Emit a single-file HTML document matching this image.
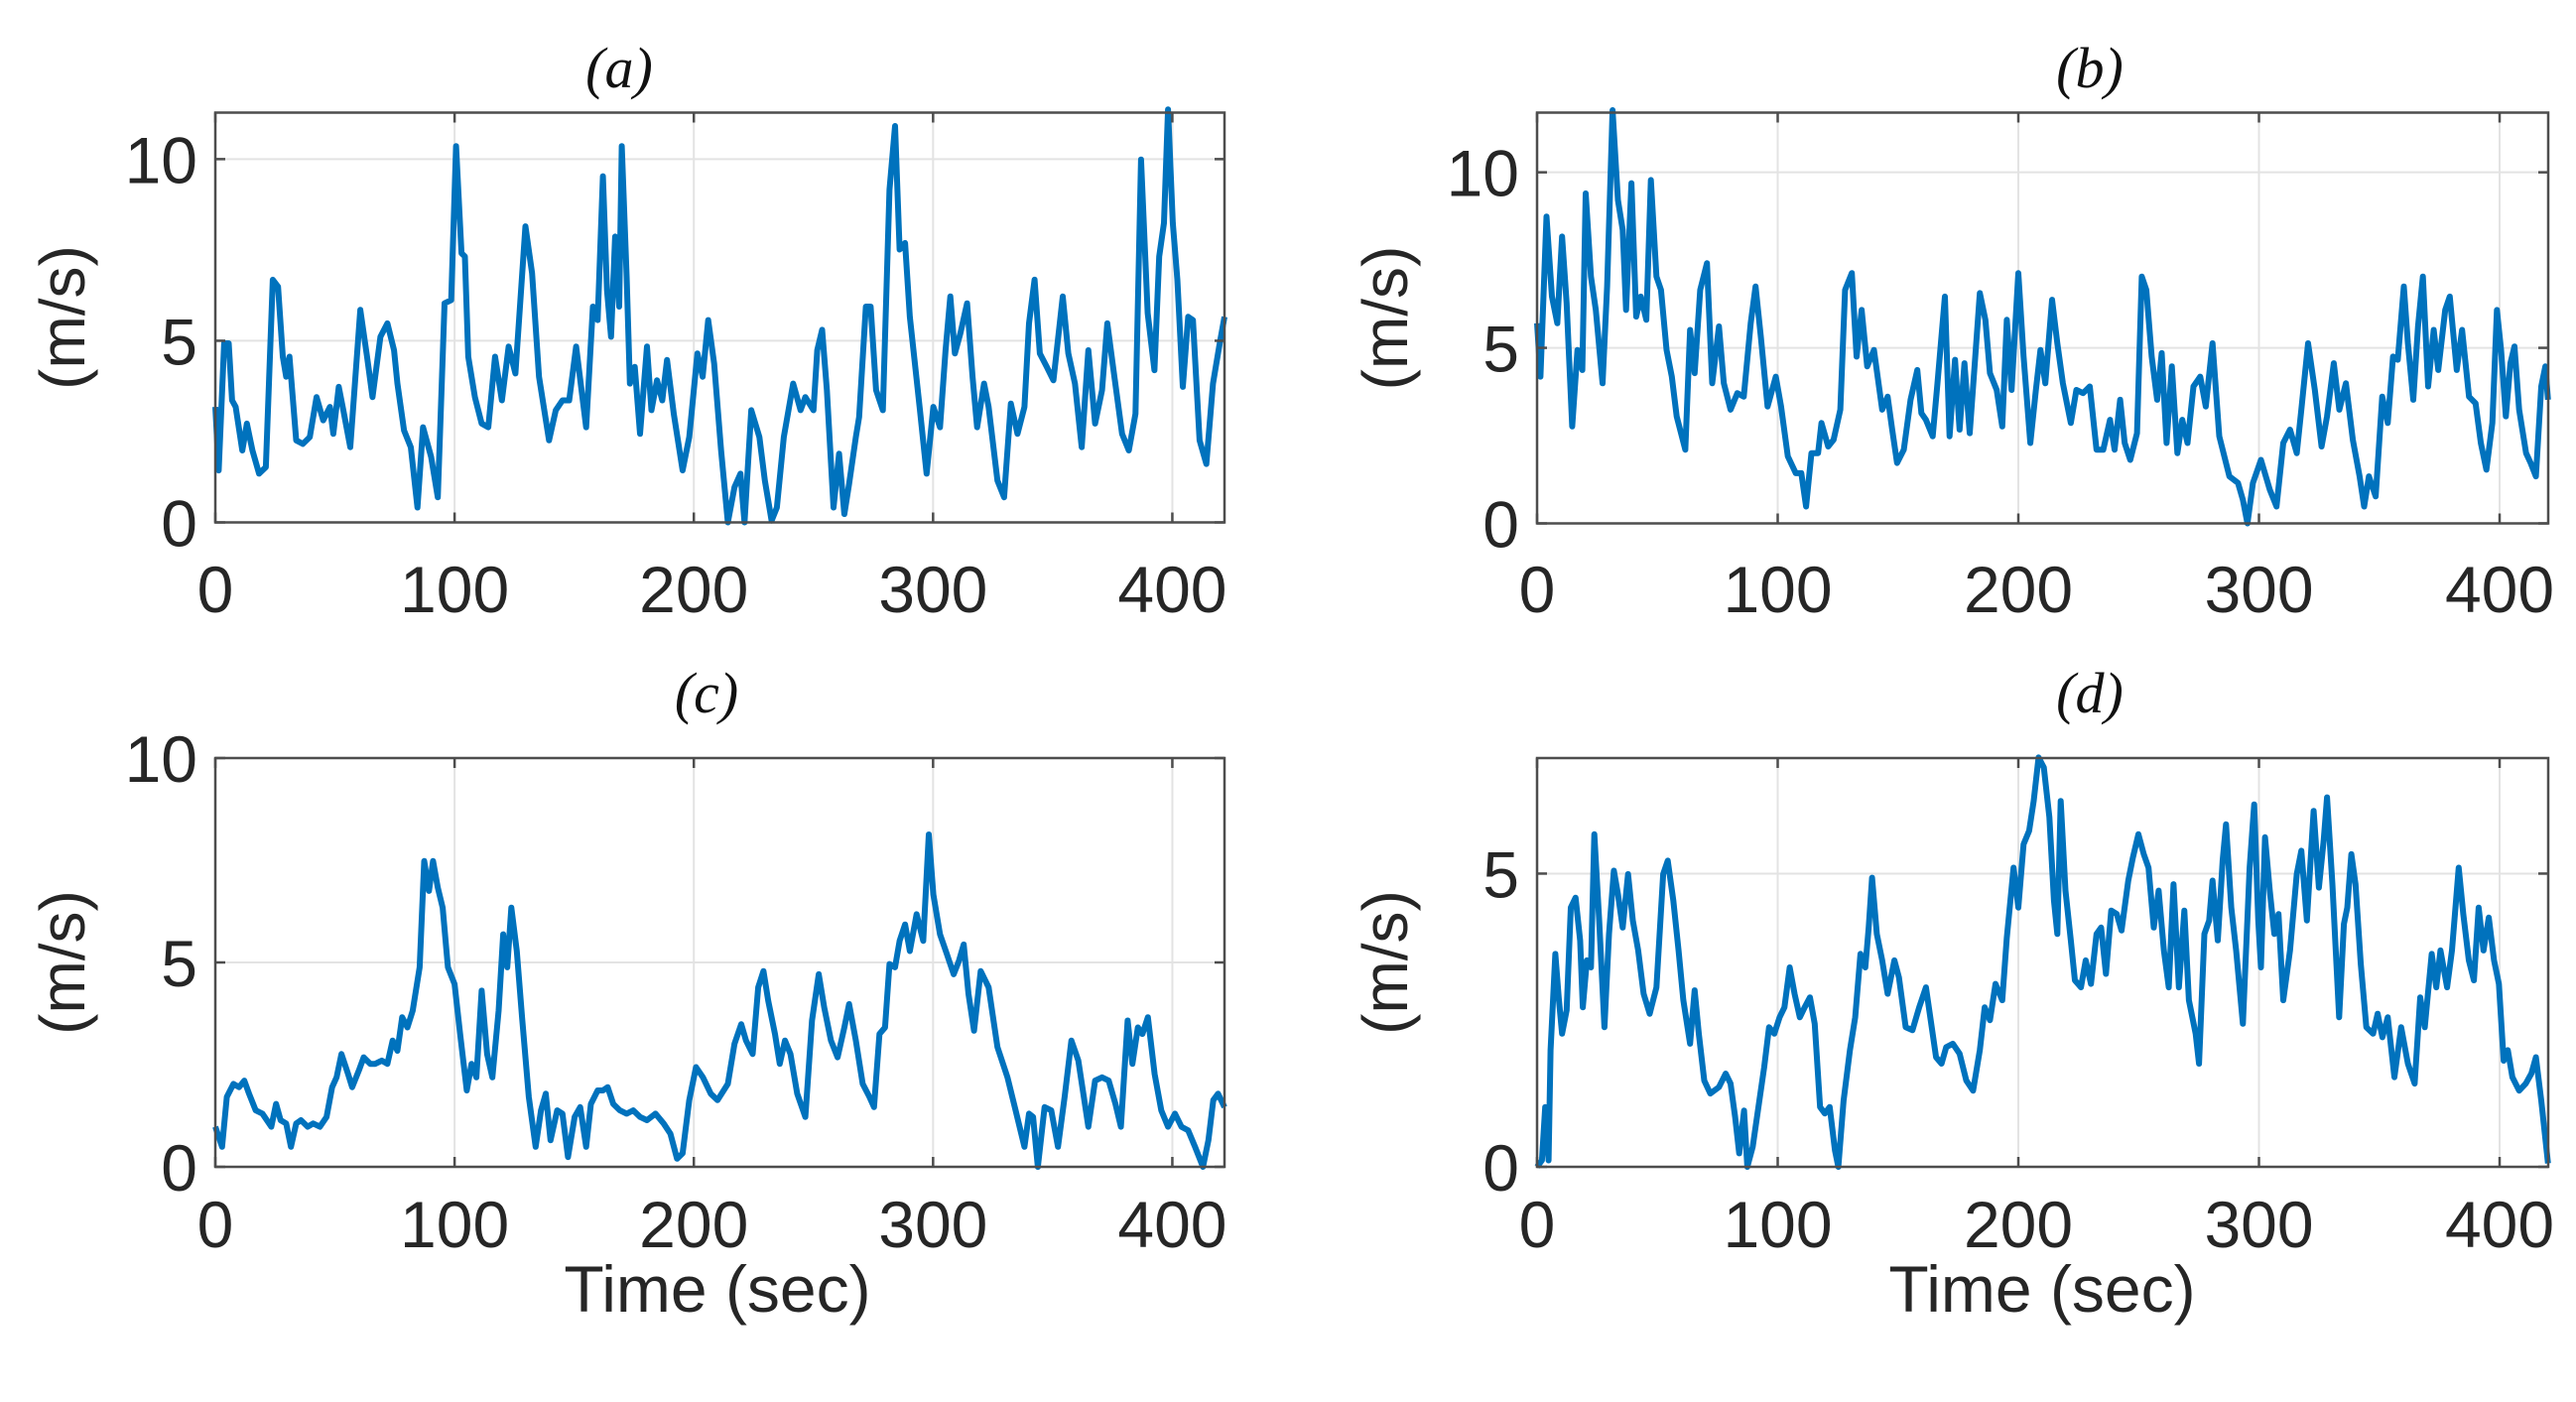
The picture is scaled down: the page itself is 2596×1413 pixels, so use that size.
<!DOCTYPE html>
<html><head><meta charset="utf-8"><style>
html,body{margin:0;padding:0;background:#fff;overflow:hidden;}
svg{display:block;}
text{font-family:"Liberation Sans",Arial,sans-serif;fill:#262626;}
.ttl{font-family:"Liberation Serif",serif;font-style:italic;font-size:58px;fill:#111;}
</style></head><body>
<svg id="fig" width="2596" height="1413" viewBox="0 0 2596 1413"></svg>
<script>
const timeA=[0,1.4,3.7,5.6,7.0,8.5,11.3,13.2,15.5,18.3,21.1,24.0,26.2,28.2,29.6,31.0,33.8,36.6,39.5,42.3,45.1,47.9,49.3,51.6,53.5,56.4,60.6,63.4,65.7,69.0,71.9,74.7,76.1,78.9,81.7,84.5,86.8,90.2,93.0,95.8,98.6,100.6,102.9,104.3,105.7,108.5,111.3,114.1,116.9,119.8,122.6,125.4,129.6,132.4,135.3,139.5,142.3,145.1,147.9,150.8,155.0,157.8,159.8,162.0,163.7,165.4,167.1,168.8,169.9,171.9,173.3,175.3,177.5,180.4,182.3,184.6,186.8,188.8,191.6,195.3,198.1,201.5,203.7,206.0,208.5,211.4,214.2,217.0,219.5,221.2,224.0,227.4,229.7,232.5,234.7,237.6,241.5,244.6,246.6,250.0,251.6,253.6,255.6,258.4,260.7,262.9,264.9,267.7,269.1,271.9,273.9,276.2,279.0,281.8,284.1,286.0,288.3,290.3,294.5,297.3,300.1,302.9,305.2,307.2,309.1,311.4,314.2,316.5,318.4,321.3,323.2,326.9,329.7,332.5,335.3,338.2,340.1,342.4,344.6,347.5,350.3,354.2,356.5,359.3,362.1,364.9,367.7,370.6,372.8,375.6,379.0,381.8,384.6,386.9,389.7,392.5,394.5,396.5,398.2,400.2,402.1,404.4,406.6,408.6,411.4,414.2,417.0,419.8,421.8];
const speedA=[3.18,1.43,4.93,4.93,3.36,3.18,1.98,2.72,1.98,1.34,1.52,6.68,6.49,4.56,4.01,4.56,2.26,2.16,2.35,3.45,2.81,3.18,2.44,3.73,3.09,2.07,5.85,4.56,3.45,5.11,5.48,4.74,3.82,2.53,2.07,0.41,2.62,1.80,0.69,6.03,6.12,10.36,7.41,7.32,4.56,3.45,2.72,2.62,4.56,3.36,4.84,4.10,8.15,6.86,4.01,2.26,3.09,3.36,3.36,4.84,2.62,5.94,5.57,9.53,6.40,5.11,7.87,5.94,10.36,6.77,3.82,4.28,2.44,4.84,3.09,3.91,3.36,4.47,2.99,1.43,2.35,4.65,4.01,5.57,4.37,1.98,0,0.97,1.34,0,3.09,2.35,1.15,0.05,0.41,2.35,3.82,3.09,3.45,3.09,4.74,5.30,3.64,0.41,1.89,0.23,1.06,2.35,2.90,5.94,5.94,3.64,3.09,9.16,10.91,7.51,7.69,5.66,3.09,1.34,3.18,2.62,4.74,6.22,4.65,5.20,6.03,4.01,2.62,3.82,3.18,1.15,0.69,3.27,2.44,3.18,5.48,6.68,4.65,4.28,3.91,6.22,4.65,3.82,2.07,4.74,2.72,3.64,5.48,4.10,2.44,1.98,2.99,9.99,5.76,4.19,7.32,8.24,11.37,8.24,6.68,3.73,5.66,5.57,2.26,1.61,3.82,4.93,5.66];
const timeB=[0,1.4,3.9,6.2,8.4,10.4,12.3,14.6,16.8,18.8,20.2,22.4,24.4,27.2,29.1,31.4,33.6,35.6,37.0,39.2,41.2,43.1,45.4,47.3,49.6,51.5,53.8,56.0,58.0,61.6,63.6,65.5,67.8,70.6,72.8,75.6,77.6,80.4,83.2,85.9,88.8,90.8,93.0,95.8,99.2,101.4,104.2,107.5,109.8,111.8,114.0,116.8,118.2,121.0,123.2,126.0,128.0,130.8,132.8,134.9,137.2,140.0,143.4,145.7,147.6,149.6,152.4,155.2,158.0,159.7,161.6,164.4,166.4,169.5,171.4,173.7,175.6,177.6,179.8,182.1,184.0,186.3,188.2,191.0,193.3,195.2,197.2,200.0,202.2,205.0,207.3,209.2,211.2,214.0,216.2,218.5,221.8,224.1,226.9,229.7,232.5,235.3,238.1,240.0,242.3,244.2,246.5,249.3,251.3,253.2,255.4,257.7,259.6,261.6,263.8,266.1,268.1,270.3,272.8,275.6,277.9,280.7,283.5,287.7,291.3,293.3,295.2,297.5,300.8,304.5,307.3,310.1,312.9,315.7,317.6,320.4,323.2,326.0,328.3,331.1,333.4,336.1,339.0,341.8,343.7,345.7,348.5,351.2,353.5,355.7,357.7,360.2,361.9,364.1,366.1,368.1,370.3,372.6,374.5,377.4,379.3,382.2,384.4,387.3,390.0,392.2,394.5,397.0,398.9,400.6,402.6,404.5,406.2,408.1,411.0,412.9,415.1,417.3,419.0,420.1];
const speedB=[5.70,4.18,8.74,6.46,5.70,8.17,6.27,2.76,4.94,4.37,9.40,7.03,6.08,3.99,6.75,11.77,9.21,8.36,6.08,9.69,5.89,6.46,5.80,9.78,7.03,6.65,4.94,4.18,3.05,2.10,5.51,4.28,6.65,7.41,3.99,5.61,3.99,3.24,3.71,3.61,5.70,6.75,5.32,3.33,4.18,3.33,1.91,1.43,1.43,0.48,2.00,2.00,2.86,2.19,2.38,3.24,6.65,7.13,4.75,6.08,4.47,4.94,3.24,3.61,2.67,1.72,2.10,3.52,4.37,3.14,2.95,2.48,3.99,6.46,2.48,4.66,2.67,4.56,2.57,4.75,6.56,5.80,4.28,3.80,2.76,5.80,3.80,7.13,4.75,2.29,3.80,4.94,3.99,6.37,5.13,3.99,2.86,3.80,3.71,3.90,2.10,2.10,2.95,2.10,3.52,2.29,1.81,2.57,7.03,6.65,4.75,3.52,4.85,2.29,4.47,2.00,2.95,2.29,3.90,4.18,3.33,5.13,2.48,1.34,1.15,0.67,0,1.15,1.81,0.96,0.48,2.29,2.67,2.00,3.24,5.13,3.80,2.19,3.05,4.56,3.24,3.99,2.38,1.34,0.48,1.34,0.77,3.61,2.86,4.75,4.66,6.75,5.13,3.52,5.61,7.03,3.90,5.51,4.37,6.08,6.46,4.37,5.51,3.61,3.42,2.29,1.53,2.86,6.08,4.94,3.05,4.56,5.04,3.24,2.00,1.72,1.34,3.90,4.47,3.52];
const timeC=[0,2.8,4.8,7.6,9.9,12.1,14.1,16.9,19.7,23.4,25.4,27.3,29.6,31.6,33.8,35.8,38.6,40.9,43.7,46.5,48.8,50.7,52.7,55.5,57.2,60.0,62.0,64.8,66.8,69.6,71.9,74.1,76.1,78.1,80.3,82.5,85.4,87.3,89.3,91.0,93.0,95.0,97.2,100.0,102.3,105.1,107.1,109.1,111.3,113.6,115.8,118.4,120.3,122.0,123.7,126.0,128.2,131.0,133.9,136.1,138.1,140.1,142.9,145.1,147.4,150.2,152.5,155.0,157.0,159.8,162.0,164.0,166.3,169.1,171.9,174.7,177.5,180.4,184.0,187.4,190.2,193.0,195.3,198.1,200.9,203.8,207.1,209.9,214.2,217.0,219.8,221.8,224.6,226.9,229.1,231.1,233.9,235.9,238.1,240.4,243.2,246.6,249.4,252.2,254.5,257.3,260.1,262.9,264.9,267.7,270.6,273.4,275.3,277.6,279.9,281.8,284.1,286.0,288.3,290.3,293.1,295.9,298.2,300.1,302.9,305.8,308.6,310.8,312.8,314.8,317.1,319.9,323.2,326.9,331.1,334.5,338.2,340.1,341.8,343.8,346.6,349.4,352.2,355.0,357.8,360.7,364.9,367.7,370.6,373.4,376.2,378.5,381.3,383.3,385.6,387.5,389.8,392.6,395.4,398.2,401.1,403.8,406.6,409.5,412.8,415.1,417.1,419.1,421.8];
const speedC=[0.98,0.49,1.71,2.03,1.95,2.11,1.79,1.38,1.30,0.98,1.54,1.14,1.06,0.49,1.06,1.14,0.98,1.06,0.98,1.22,1.95,2.19,2.76,2.27,1.95,2.36,2.68,2.52,2.52,2.60,2.52,3.09,2.84,3.66,3.41,3.82,4.88,7.48,6.75,7.48,6.83,6.34,4.88,4.47,3.25,1.87,2.52,2.19,4.31,2.76,2.19,3.82,5.69,4.88,6.34,5.28,3.66,1.71,0.49,1.38,1.79,0.65,1.38,1.30,0.24,1.22,1.46,0.49,1.54,1.87,1.87,1.95,1.54,1.38,1.30,1.38,1.22,1.14,1.30,1.06,0.81,0.20,0.33,1.63,2.44,2.19,1.79,1.63,2.03,3.01,3.49,3.09,2.76,4.39,4.79,4.06,3.25,2.52,3.09,2.76,1.79,1.22,3.58,4.71,3.90,3.09,2.68,3.41,3.98,3.09,2.03,1.71,1.46,3.25,3.41,4.96,4.88,5.53,5.93,5.28,6.18,5.53,8.13,6.66,5.69,5.20,4.71,5.04,5.44,4.23,3.33,4.79,4.39,2.93,2.19,1.38,0.49,1.30,1.22,0,1.46,1.38,0.49,1.71,3.09,2.60,0.98,2.11,2.19,2.11,1.54,0.98,3.58,2.52,3.41,3.25,3.66,2.27,1.38,0.98,1.30,0.98,0.89,0.49,0,0.65,1.63,1.79,1.46];
const timeD=[0,2.0,3.4,4.8,5.6,7.6,9.0,10.4,12.3,14.0,16.0,17.9,19.0,20.7,22.4,23.8,25.8,28.0,29.9,31.9,33.6,35.6,37.8,39.8,42.0,44.3,46.8,49.6,52.4,54.3,56.6,58.8,60.8,63.6,65.5,67.2,69.5,72.0,75.6,78.4,80.4,82.3,84.0,86.0,87.4,89.6,92.2,94.4,96.4,98.6,100.8,102.8,105.0,107.0,109.2,111.2,113.4,115.4,117.6,119.6,121.6,123.8,125.2,127.4,130.0,132.2,134.4,136.4,137.8,139.2,141.2,143.4,145.7,148.5,150.4,153.2,156.0,158.8,161.6,163.6,165.8,168.1,170.0,172.8,175.6,178.4,181.2,184.0,186.0,188.2,190.5,193.3,195.2,198.0,200.0,202.2,204.5,206.4,208.4,210.6,212.9,214.8,216.2,217.6,219.6,221.8,223.5,226.0,228.0,230.2,232.5,234.4,236.4,238.6,240.9,242.9,245.7,247.6,249.9,252.1,254.1,256.3,258.3,260.5,262.5,264.5,266.7,269.0,270.9,273.7,275.1,277.3,279.3,280.7,282.9,284.9,286.3,288.5,290.5,293.3,296.1,298.0,299.7,300.8,302.5,304.5,306.4,308.1,310.1,312.9,315.7,317.6,319.9,322.7,324.9,326.9,328.3,330.5,333.3,335.3,336.7,338.4,340.1,342.3,344.6,347.4,349.3,351.3,353.5,356.3,359.1,361.9,364.7,367.0,368.9,371.8,373.7,375.4,378.2,380.2,383.0,384.9,387.2,389.3,391.3,393.3,395.5,397.7,399.7,401.7,403.4,405.3,408.1,410.9,413.2,415.1,417.3,420.1];
const speedD=[0,0.11,1.02,0.11,1.99,3.63,2.89,2.27,2.67,4.42,4.59,3.86,2.72,3.52,3.40,5.67,4.20,2.38,3.97,5.05,4.65,4.08,4.99,4.20,3.69,2.95,2.61,3.06,4.99,5.22,4.54,3.69,2.84,2.10,3.01,2.27,1.47,1.25,1.36,1.59,1.42,0.85,0.23,0.96,0,0.34,1.08,1.70,2.38,2.27,2.55,2.72,3.40,2.95,2.55,2.72,2.89,2.44,1.02,0.91,1.02,0.28,0,1.13,1.99,2.55,3.63,3.40,4.08,4.93,3.97,3.52,2.95,3.52,3.23,2.38,2.33,2.72,3.06,2.50,1.87,1.76,2.04,2.10,1.93,1.47,1.30,1.99,2.72,2.50,3.12,2.84,3.91,5.10,4.42,5.50,5.73,6.24,6.98,6.81,5.96,4.54,3.97,6.24,4.71,3.86,3.18,3.06,3.52,3.12,3.97,4.08,3.29,4.37,4.31,4.03,4.88,5.27,5.67,5.33,5.10,4.08,4.71,3.69,3.06,4.82,3.06,4.37,2.84,2.27,1.76,3.97,4.20,4.88,3.86,5.22,5.84,4.42,3.69,2.44,5.10,6.18,4.20,3.40,5.62,4.71,3.97,4.31,2.84,3.69,4.99,5.39,4.20,6.07,4.76,5.56,6.30,4.82,2.55,4.14,4.42,5.33,4.82,3.46,2.38,2.27,2.61,2.21,2.55,1.53,2.38,1.76,1.42,2.89,2.38,3.63,3.06,3.69,3.06,3.69,5.10,4.31,3.52,3.18,4.42,3.69,4.25,3.52,3.12,1.81,1.99,1.53,1.30,1.42,1.59,1.87,1.13,0.06];
const xTicks=[0,100,200,300,400];
const yTicksA=[0,5,10], yTicksB=[0,5,10], yTicksC=[0,5,10], yTicksD=[0,5];
const titles=["(a)","(b)","(c)","(d)"];

const NS="http://www.w3.org/2000/svg";
const svg=document.getElementById('fig');
function mk(tag,attrs,parent){const e=document.createElementNS(NS,tag);for(const k in attrs)e.setAttribute(k,attrs[k]);(parent||svg).appendChild(e);return e;}

const panels=[
 {L:217,R:1234,T:113.5,B:526.5,xmax:421.8,ymax:11.28,t:timeA,v:speedA,yt:yTicksA,title:titles[0],tx:624,ty:88,xl:false,ylx:63},
 {L:1549,R:2568,T:113.5,B:527.5,xmax:420.2,ymax:11.7,t:timeB,v:speedB,yt:yTicksB,title:titles[1],tx:2106,ty:88,xl:false,ylx:1396},
 {L:217,R:1234,T:764,B:1176,xmax:421.8,ymax:10,t:timeC,v:speedC,yt:yTicksC,title:titles[2],tx:712,ty:718,xl:true,ylx:63},
 {L:1549,R:2568,T:764,B:1176,xmax:420.2,ymax:6.97,t:timeD,v:speedD,yt:yTicksD,title:titles[3],tx:2106,ty:718,xl:true,ylx:1396}
];
const ids=['a','b','c','d'];
panels.forEach((p,i)=>{
  const g=mk('g',{});
  
  
  const xs=x=>p.L+(x/p.xmax)*(p.R-p.L);
  const ys=y=>p.B-(y/p.ymax)*(p.B-p.T);
  xTicks.forEach(x=>{
    const l=mk('line',{x1:xs(x),x2:xs(x),y1:p.T,y2:p.B,stroke:'#e3e3e3','stroke-width':2},g);
    
    
  });
  p.yt.forEach(y=>{
    const l=mk('line',{x1:p.L,x2:p.R,y1:ys(y),y2:ys(y),stroke:'#e3e3e3','stroke-width':2},g);
    
    
  });
  let d='';
  p.t.forEach((t,k)=>{d+=(k?'L':'M')+xs(t).toFixed(1)+' '+ys(p.v[k]).toFixed(1);});
  const path=mk('path',{d:d,fill:'none',stroke:'#0072BD','stroke-width':6,'stroke-linejoin':'round'},g);
  
  
  const box=mk('rect',{x:p.L,y:p.T,width:p.R-p.L,height:p.B-p.T,fill:'none',stroke:'#4d4d4d','stroke-width':2.5},g);
  
  
  xTicks.forEach(x=>{
    mk('line',{x1:xs(x),x2:xs(x),y1:p.B,y2:p.B-10,stroke:'#4d4d4d','stroke-width':2.5},g);
    mk('line',{x1:xs(x),x2:xs(x),y1:p.T,y2:p.T+10,stroke:'#4d4d4d','stroke-width':2.5},g);
    const tx=mk('text',{x:xs(x),y:(i<2?617:1257),'font-size':66,'text-anchor':'middle'},g);
    tx.textContent=x;
    
    
  });
  p.yt.forEach(y=>{
    mk('line',{x1:p.L,x2:p.L+10,y1:ys(y),y2:ys(y),stroke:'#4d4d4d','stroke-width':2.5},g);
    mk('line',{x1:p.R,x2:p.R-10,y1:ys(y),y2:ys(y),stroke:'#4d4d4d','stroke-width':2.5},g);
    const ty=mk('text',{x:p.L-18,y:ys(y)+24,'font-size':66,'text-anchor':'end'},g);
    ty.textContent=y;
    
    
  });
  const yc=(p.T+p.B)/2;
  const yl=mk('text',{x:p.ylx,y:yc,'font-size':64,'text-anchor':'middle',transform:'rotate(-90 '+(p.ylx)+' '+yc+') translate(0 22)'},g);
  yl.textContent='(m/s)';
  
  
  const tt=mk('text',{x:p.tx,y:p.ty,'text-anchor':'middle','class':'ttl'},g);
  tt.textContent=p.title;
  
  
  if(p.xl){
    const xl=mk('text',{x:(i==2?723:2058),y:1322,'font-size':66,'text-anchor':'middle'},g);
    xl.textContent='Time (sec)';
    
    
  }
});
</script>
</body></html>
